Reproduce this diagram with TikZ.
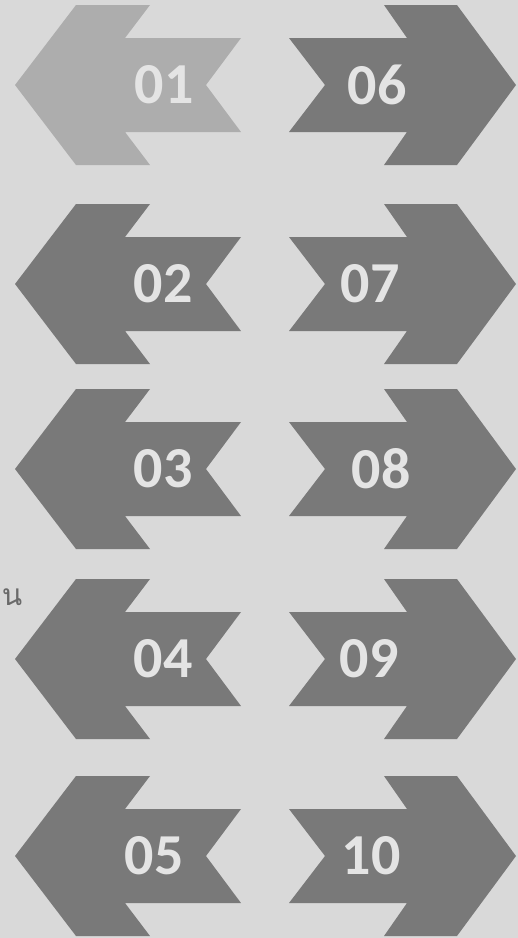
\documentclass[tikz,border=0pt]{standalone}
\usepackage{fontspec}
\newfontfamily\digitfont{Carlito}
\newfontfamily\thaifont[Script=Thai]{Loma}
\definecolor{paper}{HTML}{D9D9D9}
\definecolor{arrowdark}{HTML}{797979}
\definecolor{arrowlight}{HTML}{ADADAD}
\definecolor{labelgray}{HTML}{E4E4E4}
\definecolor{markgray}{HTML}{6A6A6A}
\begin{document}
\begin{tikzpicture}[x=0.02cm, y=-0.02cm,
		numlabel/.style={text=labelgray, inner sep=0pt, font=\digitfont\bfseries\fontsize{33}{33}\selectfont}]
		\useasboundingbox (0, 0) rectangle (518, 938);
		\fill[paper] (0, 0) rectangle (518, 938);
		% rows: centre / left label / right label / label x positions / left colour
		\foreach \c/\l/\r/\lx/\rx/\col in {85/01/06/164/377/arrowlight, 284/02/07/163/370/arrowdark,
				469/03/08/163/381/arrowdark, 659/04/09/163/369/arrowdark, 856/05/10/154/371/arrowdark} {
			\fill[\col] (15, \c) -- (76, \c-80) -- (150, \c-80) -- (125, \c-47) -- (241, \c-47) -- (206, \c)
				-- (241, \c+47) -- (125, \c+47) -- (150, \c+80) -- (76, \c+80) -- cycle;
			\fill[arrowdark] (516, \c) -- (457, \c-80) -- (384, \c-80) -- (407, \c-47) -- (289, \c-47) -- (325, \c)
				-- (289, \c+47) -- (407, \c+47) -- (384, \c+80) -- (457, \c+80) -- cycle;
			\node[numlabel] (l\l) at (\lx, \c) {\l};
			\node[numlabel] (r\r) at (\rx, \c) {\r};
		}
		\node[text=markgray, inner sep=0pt] (mark) at (12, 597) {\thaifont\fontsize{17}{17}\selectfont น};
	\end{tikzpicture}
\end{document}
